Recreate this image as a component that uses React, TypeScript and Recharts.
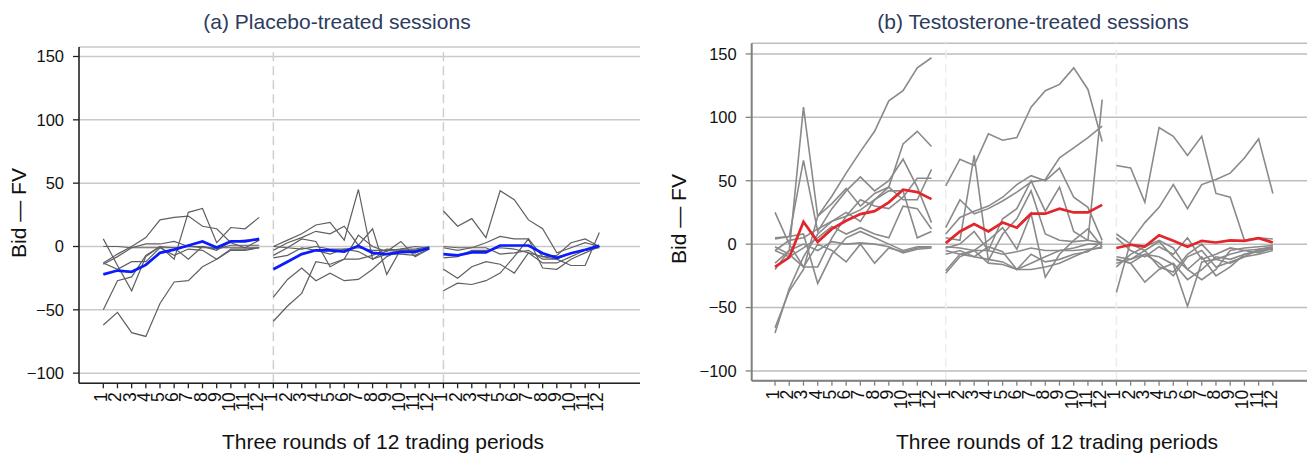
import React from 'react';
import { LineChart, Line, XAxis, YAxis, CartesianGrid, ReferenceLine } from 'recharts';

// tick labels
const periodLabels = ['1', '2', '3', '4', '5', '6', '7', '8', '9', '10', '11', '12'];
const yTicks = [-100, -50, 0, 50, 100, 150];
const periodTicks = Array.from({ length: 36 }, (_, i) => i);

// (a) placebo sessions, one array per session, 12 periods each
const placeboRound1 = [
  [-62, -52, -68, -71, -45, -28, -27, -16, -10, -3, -3, -1],
  [-50, -27, -24, -7, 0, -10, 27, 30, 3, 15, 14, 23],
  [6, -15, -35, -8, 0, -1, -10, 0, -2, 1, 1, 1],
  [-13, -6, 0, 7, 21, 23, 24, 16, 14, 3, -1, 5],
  [0, 0, -1, -1, -1, -1, 0, -1, -1, -1, -1, -1],
  [-14, -8, -1, 2, 2, 4, 0, 0, -3, 4, 5, 5],
  [-13, -18, -12, -12, -1, -7, -2, -3, -10, -2, -2, -1],
];
const placeboRound2 = [
  [-59, -47, -37, -12, -14, -10, -10, -7, -2, -3, -3, -1],
  [-40, -26, -17, -27, -21, -27, -26, -18, -8, -3, -5, -1],
  [0, 5, 10, 17, 19, 5, 45, -10, -3, -4, -5, -1],
  [-3, 3, 7, 12, 10, 16, 1, 14, -22, -2, 0, -1],
  [-7, -1, 6, 4, -16, -10, 9, 0, -4, 4, -8, -2],
  [-9, -7, -1, -3, -6, -2, -4, -10, -6, -6, -7, -2],
  [0, -1, -2, 0, -2, -2, -1, -3, -3, -2, -2, 0],
];
const placeboRound3 = [
  [28, 16, 22, 7, 44, 37, 21, 14, -5, -1, 3, 0],
  [-35, -29, -30, -27, -21, -8, 6, -17, -18, -10, -5, 0],
  [-18, -25, -16, -12, -14, -21, -5, -8, -10, -5, -3, 0],
  [0, -1, -1, 3, 8, 6, 6, -8, -7, 3, 6, 0],
  [-1, -3, -1, -1, -6, -5, -3, -10, -10, -15, -15, 11],
  [-9, -8, -3, -3, -1, -2, -5, -13, -13, -8, -3, -1],
];
const placeboMean = [
  [-22, -19, -20, -14.5, -5, -2.5, 0.8, 4, -0.8, 4, 4, 6],
  [-18, -12, -6, -3, -3, -4, 0.5, -5, -6, -4.5, -4, -1.3],
  [-6, -7, -4.7, -4.7, 0.8, 0.8, 0.8, -5.3, -9, -5.3, -2.6, 0.5],
];

// (b) testosterone sessions
const testoRound1 = [
  [-66, -37, -20, 22, 38, 56, 73, 89, 113, 121, 139, 147],
  [-20, -5, 108, 22, 32, 44, 30, 40, 45, 79, 89, 77],
  [5, 6, 66, 10, 28, 42, 53, 42, 50, 67, 45, 17],
  [-70, -35, -10, 8, 18, 25, 18, 35, 45, 35, 35, 59],
  [25, 0, -18, -18, 5, 22, 35, 30, 28, 37, 52, 52],
  [-5, 3, 5, 12, 18, 22, 27, 35, 42, 42, 5, 10],
  [4, 6, 8, -31, -8, 5, 10, 5, 0, -5, -2, -2],
  [-2, -8, -18, 0, -5, -14, 0, -15, -3, -6, -3, -2],
  [-15, -5, 0, -5, 2, 0, 1, 0, -2, -7, -4, -3],
  [-5, -10, -3, 5, 14, 8, 13, 8, 5, 30, 28, 12],
];
const testoRound2 = [
  [46, 67, 62, 87, 82, 84, 108, 121, 126, 139, 122, 81],
  [13, 35, 24, 28, 34, 41, 49, 51, 68, 76, 84, 93],
  [5, 3, 70, -13, 8, 20, 42, 8, 3, 2, 3, 114],
  [8, 21, 26, 30, 37, 47, 54, 50, 60, 37, 29, 3],
  [-3, 0, 10, -5, 20, 28, 50, 26, 45, 10, 3, 1],
  [-21, -8, -5, 3, 13, -4, 24, -26, -8, 3, 12, -2],
  [-23, -10, -5, -15, -16, -20, -15, -10, -5, -3, 0, 0],
  [-5, -8, -10, -12, -14, -20, -20, -18, -15, -10, -5, -2],
  [-8, -5, -10, -2, -6, -20, -8, -14, -12, -8, -6, 2],
  [-2, -3, -5, -5, -8, -6, -3, -5, -5, -5, -4, -3],
];
const testoRound3 = [
  [62, 60, 33, 92, 85, 70, 85, 40, 37, 3, 5, 4],
  [-38, 2, 17, 29, 47, 28, 47, 51, 56, 68, 83, 40],
  [-12, -15, -8, -10, -16, -49, -14, -12, -8, -5, -4, -3],
  [8, 0, -5, 2, -10, -20, -10, -25, -18, -8, -6, -3],
  [-12, -15, -30, -20, -15, -28, -20, -10, -12, -8, -5, -4],
  [-15, -12, -8, -15, -25, -10, -5, -18, -14, -10, -8, -5],
  [-18, -8, -2, 3, -3, -20, -28, -20, -5, -3, -2, -1],
  [5, -5, -10, -2, -8, 5, -12, -8, -3, -5, -7, -3],
  [-10, -12, -5, -18, -22, -8, 0, -12, -15, -10, -4, -2],
];
const testoMean = [
  [-18, -10.5, 17.6, 1.8, 12, 18.4, 23.7, 26, 33, 43, 41, 35.5],
  [0.8, 10, 15.8, 10, 17, 13, 24, 24, 28, 25, 25, 31],
  [-3, -0.5, -2, 7, 2.6, -2, 2.6, 1.3, 3, 2.6, 4.7, 1.3],
];

const FONT = '"Liberation Sans", Arial, sans-serif';

// one row per period index (0..35); keys only exist inside their own round so lines break between rounds
const buildRows = (rounds: number[][][], mean: number[][]) => {
  const rows: any[] = [];
  for (let i = 0; i < 36; i++) {
    const r = Math.floor(i / 12);
    const p = i % 12;
    const row: any = { idx: i };
    rounds[r].forEach((s, k) => {
      row[`r${r}s${k}`] = s[p];
    });
    row[`m${r}`] = mean[r][p];
    rows.push(row);
  }
  return rows;
};

const PeriodTick = (props: any) => {
  const { x, y, payload } = props;
  const tx = x - 2;
  const ty = y + 2;
  return (
    <text
      x={tx}
      y={ty}
      transform={`rotate(-90 ${tx} ${ty})`}
      textAnchor="end"
      dominantBaseline="central"
      fontSize={17.5}
      fill="#111"
      fontFamily={FONT}
    >
      {periodLabels[payload.value % 12]}
    </text>
  );
};

const fmtY = (v: number) => (v < 0 ? `\u2212${-v}` : `${v}`);

interface PanelProps {
  rounds: number[][][];
  mean: number[][];
  width: number;
  yAxisWidth: number;
  marginTop: number;
  marginRight: number;
  marginBottom: number;
  xDomain: [number, number];
  yDomain: [number, number];
  axisColor: string;
  axisWidth: number;
  gridColor: string;
  lineColor: string;
  lineWidth: number;
  meanColor: string;
  dashColor: string;
}

const Panel: React.FC<PanelProps> = (p) => {
  const rows = buildRows(p.rounds, p.mean);
  return (
    <LineChart
      width={p.width}
      height={455}
      data={rows}
      margin={{ top: p.marginTop, right: p.marginRight, bottom: p.marginBottom, left: 0 }}
    >
      <CartesianGrid vertical={false} stroke={p.gridColor} strokeWidth={1.5} />
      <XAxis
        dataKey="idx"
        type="number"
        domain={p.xDomain}
        allowDataOverflow
        ticks={periodTicks}
        interval={0}
        tickSize={5}
        height={40}
        tick={<PeriodTick />}
        tickLine={{ stroke: p.axisColor, strokeWidth: 1.3 }}
        axisLine={{ stroke: p.axisColor, strokeWidth: p.axisWidth }}
      />
      <YAxis
        type="number"
        domain={p.yDomain}
        allowDataOverflow
        ticks={yTicks}
        interval={0}
        width={p.yAxisWidth}
        tickSize={6}
        tickMargin={9}
        tickFormatter={fmtY}
        tick={{ fontSize: 16.5, fill: '#111', fontFamily: FONT }}
        tickLine={{ stroke: p.axisColor, strokeWidth: 1.3 }}
        axisLine={{ stroke: p.axisColor, strokeWidth: p.axisWidth }}
      />
      <ReferenceLine x={12} stroke={p.dashColor} strokeWidth={1.5} strokeDasharray="9 5" />
      <ReferenceLine x={24} stroke={p.dashColor} strokeWidth={1.5} strokeDasharray="9 5" />
      {p.rounds.map((round, r) =>
        round.map((_, k) => (
          <Line
            key={`r${r}s${k}`}
            dataKey={`r${r}s${k}`}
            stroke={p.lineColor}
            strokeWidth={p.lineWidth}
            dot={false}
            activeDot={false}
            type="linear"
            isAnimationActive={false}
          />
        ))
      )}
      {p.mean.map((_, r) => (
        <Line
          key={`m${r}`}
          dataKey={`m${r}`}
          stroke={p.meanColor}
          strokeWidth={2.7}
          dot={false}
          activeDot={false}
          type="linear"
          isAnimationActive={false}
        />
      ))}
    </LineChart>
  );
};

const textAbs = (left: number, top: number, size: number, color: string): React.CSSProperties => ({
  position: 'absolute',
  left,
  top,
  fontSize: size,
  lineHeight: 1,
  color,
  fontFamily: FONT,
  whiteSpace: 'nowrap',
  transform: 'translateX(-50%)',
});

// rotated axis title, centred on (cx, cy)
const yTitle = (cx: number, cy: number): React.CSSProperties => ({
  position: 'absolute',
  left: cx - 70,
  top: cy - 11,
  width: 140,
  height: 22,
  textAlign: 'center',
  fontSize: 21,
  lineHeight: '22px',
  color: '#111',
  fontFamily: FONT,
  whiteSpace: 'nowrap',
  transform: 'rotate(-90deg)',
});

export default function App() {
  return (
    <div style={{ position: 'absolute', left: 0, top: 0, width: 1311, height: 455, background: '#fff', overflow: 'hidden' }}>
      <div style={{ position: 'absolute', left: 0, top: 0 }}>
        <Panel
          rounds={[placeboRound1, placeboRound2, placeboRound3]}
          mean={placeboMean}
          width={660}
          yAxisWidth={79}
          marginTop={47}
          marginRight={20}
          marginBottom={31.7}
          xDomain={[-1.715, 37.87]}
          yDomain={[-108, 157.5]}
          axisColor="#222"
          axisWidth={1.6}
          gridColor="#c9c9c9"
          lineColor="#5f5f5f"
          lineWidth={1.2}
          meanColor="#0a1cff"
          dashColor="#cfcfcf"
        />
      </div>
      <div style={{ position: 'absolute', left: 660, top: 0 }}>
        <Panel
          rounds={[testoRound1, testoRound2, testoRound3]}
          mean={testoMean}
          width={651}
          yAxisWidth={91.7}
          marginTop={43.3}
          marginRight={4}
          marginBottom={34.3}
          xDomain={[-1.64, 37.4]}
          yDomain={[-107.7, 158.4]}
          axisColor="#808080"
          axisWidth={2}
          gridColor="#bdbdbd"
          lineColor="#8a8a8a"
          lineWidth={1.6}
          meanColor="#e3262b"
          dashColor="#ececec"
        />
      </div>
      <div style={textAbs(337, 11, 21, '#2d3b5e')}>(a) Placebo-treated sessions</div>
      <div style={textAbs(1033, 11, 21, '#2d3b5e')}>(b) Testosterone-treated sessions</div>
      <div style={textAbs(383, 431, 21, '#111')}>Three rounds of 12 trading periods</div>
      <div style={textAbs(1057, 431, 21, '#111')}>Three rounds of 12 trading periods</div>
      <div style={yTitle(19, 213)}>Bid — FV</div>
      <div style={yTitle(679, 219)}>Bid — FV</div>
    </div>
  );
}
